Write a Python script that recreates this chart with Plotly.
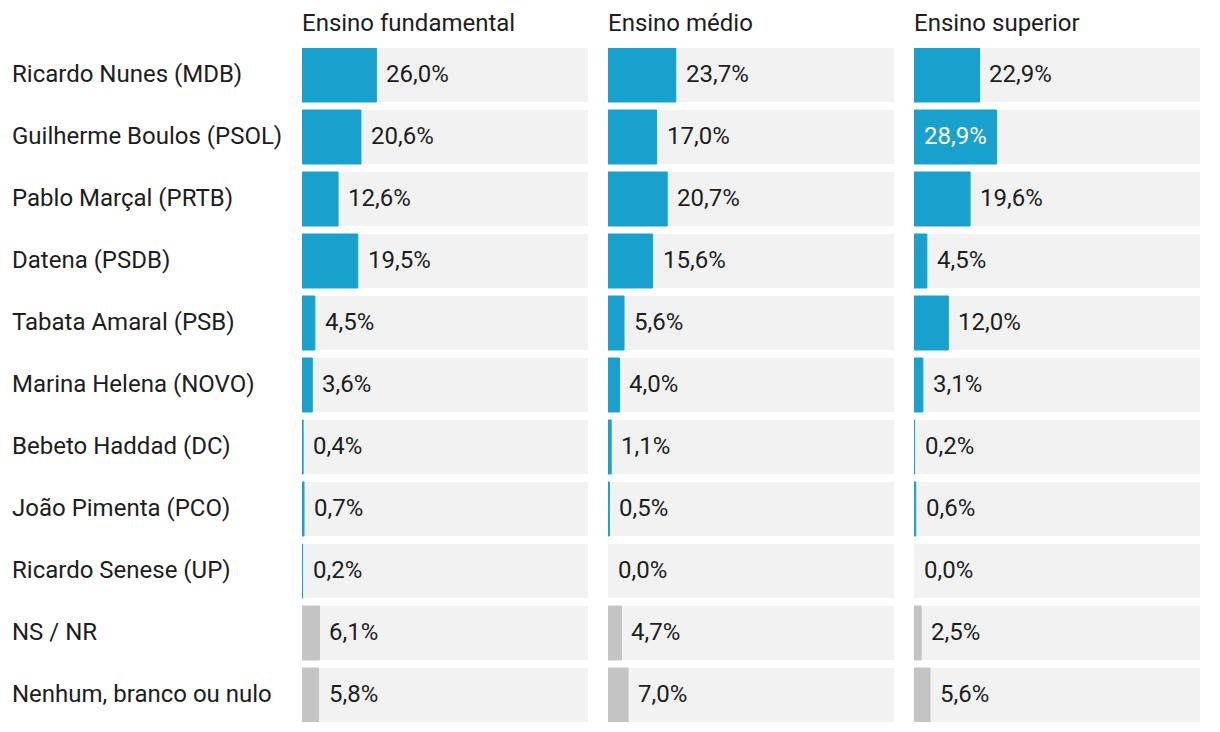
import plotly.graph_objects as go

candidates = [
    "Ricardo Nunes (MDB)", "Guilherme Boulos (PSOL)", "Pablo Marçal (PRTB)",
    "Datena (PSDB)", "Tabata Amaral (PSB)", "Marina Helena (NOVO)",
    "Bebeto Haddad (DC)", "João Pimenta (PCO)", "Ricardo Senese (UP)",
    "NS / NR", "Nenhum, branco ou nulo",
]
columns = ["Ensino fundamental", "Ensino médio", "Ensino superior"]
fundamental = [26.0, 20.6, 12.6, 19.5, 4.5, 3.6, 0.4, 0.7, 0.2, 6.1, 5.8]
medio = [23.7, 17.0, 20.7, 15.6, 5.6, 4.0, 1.1, 0.5, 0.0, 4.7, 7.0]
superior = [22.9, 28.9, 19.6, 4.5, 12.0, 3.1, 0.2, 0.6, 0.0, 2.5, 5.6]
series = [fundamental, medio, superior]
neutral = ["NS / NR", "Nenhum, branco ou nulo"]

BLUE = "#18a1cd"
GRAY = "#c4c4c4"
BG = "#f2f2f2"
TXT = "#1d1d1d"
FONT = "Roboto"
FS = 24

W, H = 1220, 732
L, R, T, B = 302, 20, 48, 10
pw = W - L - R
gap = 20
cw = (pw - 2 * gap) / 3
domains = [[(i * (cw + gap)) / pw, (i * (cw + gap) + cw) / pw] for i in range(3)]

pitch = 62
barh = 54
wfrac = barh / pitch
n = len(candidates)

fig = go.Figure()
max_val = max(max(s) for s in series)
annotations = []
for i, (col, vals) in enumerate(zip(columns, series)):
    xa = "x" if i == 0 else f"x{i+1}"
    fig.add_trace(go.Bar(
        y=candidates, x=[100] * n, orientation="h", xaxis=xa, yaxis="y",
        marker=dict(color=BG, line=dict(width=0)), width=wfrac,
        hoverinfo="skip", showlegend=False,
    ))
    colors = [GRAY if c in neutral else BLUE for c in candidates]
    fig.add_trace(go.Bar(
        y=candidates, x=vals, orientation="h", xaxis=xa, yaxis="y",
        marker=dict(color=colors, line=dict(color=colors, width=[1 if v > 0 else 0 for v in vals])),
        width=wfrac, hoverinfo="skip", showlegend=False,
    ))
    for c, v in zip(candidates, vals):
        txt = f"{v:.1f}%".replace(".", ",")
        inside = v == max_val
        annotations.append(dict(
            x=0 if inside else v, y=c, xref=xa, yref="y", text=txt,
            showarrow=False, xanchor="left", yanchor="middle",
            xshift=8, yshift=1,
            font=dict(family=FONT, size=FS, color="white" if inside else TXT),
        ))
    annotations.append(dict(
        x=domains[i][0], y=1, xref="paper", yref="paper", text=col,
        showarrow=False, xanchor="left", yanchor="middle", yshift=25,
        xshift=-2,
        font=dict(family=FONT, size=FS, color=TXT),
    ))

for c in candidates:
    annotations.append(dict(
        x=(12 - L) / pw, y=c, xref="paper", yref="y", text=c,
        showarrow=False, xanchor="left", yanchor="middle", xshift=-2, yshift=1,
        font=dict(family=FONT, size=FS, color=TXT),
    ))

layout = dict(
    width=W, height=H, margin=dict(l=L, r=R, t=T, b=B),
    paper_bgcolor="white", plot_bgcolor="white", barmode="overlay",
    font=dict(family=FONT, size=FS, color=TXT),
    annotations=annotations,
    yaxis=dict(type="category", categoryorder="array", categoryarray=candidates,
               range=[n - 1 + wfrac / 2, -wfrac / 2], showticklabels=False,
               showgrid=False, zeroline=False, fixedrange=True),
)
for i in range(3):
    key = "xaxis" if i == 0 else f"xaxis{i+1}"
    layout[key] = dict(domain=domains[i], range=[0, 100], anchor="y",
                       showticklabels=False, showgrid=False, zeroline=False,
                       fixedrange=True)
fig.update_layout(**layout)
fig.write_html("out.html", config={"displayModeBar": False},
               post_script="document.body.style.margin='0';document.body.style.overflow='hidden';")
